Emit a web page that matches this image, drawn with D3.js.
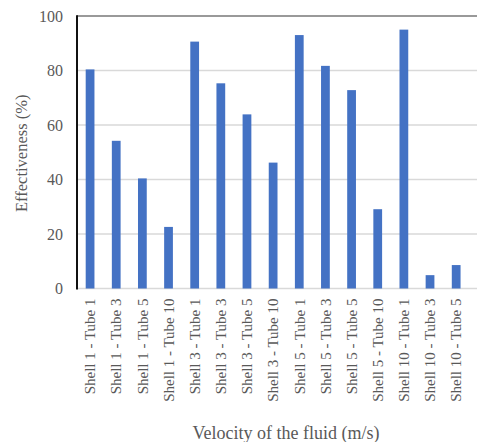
<!DOCTYPE html>
<html>
<head>
<meta charset="utf-8">
<script src="https://cdn.jsdelivr.net/npm/d3@7/dist/d3.min.js"></script>
<style>
  html, body { margin: 0; padding: 0; background: #fff; overflow: hidden; }
  svg { display: block; }
  svg text { font-family: "Liberation Serif", "DejaVu Serif", serif; fill: #595959; }
</style>
</head>
<body>
<svg id="chart" width="477" height="442"></svg>
<script>
// Shell / tube configurations and their effectiveness (%)
const categories = [
  "Shell 1 - Tube 1", "Shell 1 - Tube 3", "Shell 1 - Tube 5", "Shell 1 - Tube 10",
  "Shell 3 - Tube 1", "Shell 3 - Tube 3", "Shell 3 - Tube 5", "Shell 3 - Tube 10",
  "Shell 5 - Tube 1", "Shell 5 - Tube 3", "Shell 5 - Tube 5", "Shell 5 - Tube 10",
  "Shell 10 - Tube 1", "Shell 10 - Tube 3", "Shell 10 - Tube 5", "Shell 10 - Tube 10"
];
const effectiveness = [80.4, 54.2, 40.4, 22.6, 90.6, 75.3, 63.9, 46.2,
                       93.0, 81.7, 72.8, 29.1, 95.0, 4.9, 8.6, 3.0];
const yTicks = [0, 20, 40, 60, 80, 100];

const svg = d3.select("#chart");
const plotLeft = 77, plotTop = 16, plotBottom = 288.5;
const band = 26.15;
const plotRight = plotLeft + band * categories.length;

const x = d3.scaleBand().domain(categories).range([plotLeft, plotRight]).paddingInner(0.665).paddingOuter(0.3325);
const y = d3.scaleLinear().domain([0, 100]).range([plotBottom, plotTop]);

// horizontal gridlines
svg.append("g")
  .selectAll("line")
  .data(yTicks.filter(d => d > 0 && d < 100))
  .join("line")
  .attr("x1", plotLeft).attr("x2", 477)
  .attr("y1", d => y(d)).attr("y2", d => y(d))
  .attr("stroke", "#d9d9d9").attr("stroke-width", 1.3);

// bottom baseline
svg.append("line")
  .attr("x1", plotLeft).attr("x2", 477)
  .attr("y1", y(0)).attr("y2", y(0))
  .attr("stroke", "#d9d9d9").attr("stroke-width", 1.3);

// bars
svg.append("g")
  .selectAll("rect")
  .data(effectiveness)
  .join("rect")
  .attr("x", (d, i) => x(categories[i]))
  .attr("width", x.bandwidth())
  .attr("y", d => y(d))
  .attr("height", d => y(0) - y(d))
  .attr("fill", "#4472c4");

// frame: top border and left axis
svg.append("line")
  .attr("x1", plotLeft).attr("x2", 477)
  .attr("y1", plotTop).attr("y2", plotTop)
  .attr("stroke", "#777").attr("stroke-width", 1.5);
svg.append("line")
  .attr("x1", plotLeft).attr("x2", plotLeft)
  .attr("y1", plotTop - 0.75).attr("y2", plotBottom + 1)
  .attr("stroke", "#111").attr("stroke-width", 2);

// y axis labels
const yAxis = d3.axisLeft(y).tickValues(yTicks).tickSize(0).tickPadding(14);
const gy = svg.append("g").attr("transform", `translate(${plotLeft},0)`).call(yAxis);
gy.select(".domain").remove();
gy.attr("font-family", null);
gy.selectAll("text").style("font-size", "16px");

// x axis labels, rotated
const xAxis = d3.axisBottom(x).tickSize(0).tickPadding(0);
const gx = svg.append("g").attr("transform", `translate(0,${plotBottom})`).call(xAxis);
gx.select(".domain").remove();
gx.attr("font-family", null);
gx.selectAll("text")
  .style("font-size", "15px")
  .attr("text-anchor", "end")
  .attr("dy", "0.35em")
  .attr("transform", "translate(0,10) rotate(-90)")
  .attr("x", 0).attr("y", 0);

// axis titles
svg.append("text")
  .attr("x", 286).attr("y", 439)
  .attr("text-anchor", "middle")
  .style("font-size", "18px")
  .text("Velocity of the fluid (m/s)");

svg.append("text")
  .attr("transform", `translate(27,${(plotTop + plotBottom) / 2 + 1}) rotate(-90)`)
  .attr("text-anchor", "middle")
  .style("font-size", "16.5px")
  .text("Effectiveness (%)");
</script>
</body>
</html>
